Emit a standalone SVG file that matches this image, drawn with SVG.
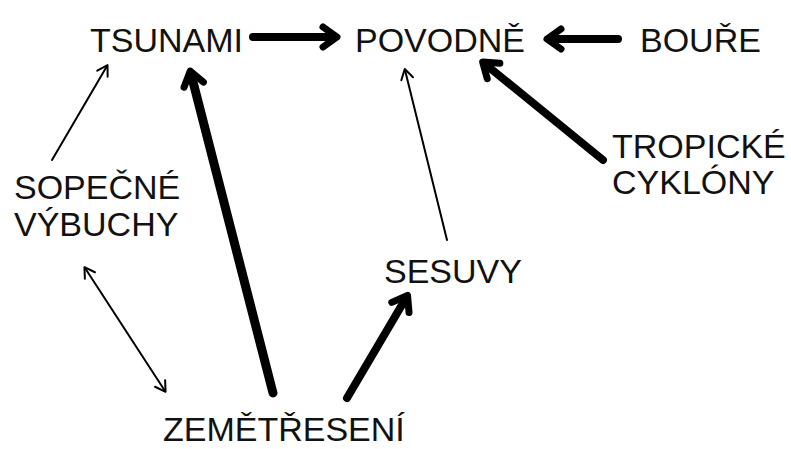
<svg xmlns="http://www.w3.org/2000/svg" width="791" height="449" viewBox="0 0 791 449">
<style>
text{font-family:"Liberation Sans",Arial,sans-serif;font-size:34px;fill:#111}
.c{fill:none;stroke:#000;stroke-linecap:round}
.thin{stroke-width:2}
.thick{stroke-width:8}
</style>
<defs>
<marker id="hk" markerUnits="userSpaceOnUse" viewBox="-20 -14 28 28" markerWidth="28" markerHeight="28" refX="0" refY="0" orient="auto-start-reverse">
<path d="M-11,-10 L3,0 L-11,10" fill="none" stroke="#000" stroke-width="7" stroke-linecap="round" stroke-linejoin="round"/>
</marker>
<marker id="hn" markerUnits="userSpaceOnUse" viewBox="-14 -10 20 20" markerWidth="20" markerHeight="20" refX="0" refY="0" orient="auto-start-reverse">
<path d="M-9,-6 L1,0 L-9,6" fill="none" stroke="#000" stroke-width="2" stroke-linecap="round" stroke-linejoin="round"/>
</marker>
</defs>
<rect width="791" height="449" fill="#fff"/>
<g id="connectors">
<line class="c thick" x1="253" y1="37" x2="334" y2="37" marker-end="url(#hk)"/>
<line class="c thick" x1="618" y1="39" x2="550" y2="39" marker-end="url(#hk)"/>
<line class="c thick" x1="603" y1="160" x2="485" y2="64" marker-end="url(#hk)"/>
<line class="c thin" x1="447" y1="240" x2="405" y2="70" marker-end="url(#hn)"/>
<line class="c thick" x1="273" y1="393" x2="191" y2="74" marker-end="url(#hk)" style="stroke-width:9"/>
<line class="c thick" x1="347" y1="398" x2="406" y2="298" marker-end="url(#hk)"/>
<line class="c thin" x1="52" y1="160" x2="107" y2="66" marker-end="url(#hn)"/>
<line class="c thin" x1="85" y1="268" x2="165" y2="391" marker-start="url(#hn)" marker-end="url(#hn)"/>
</g>
<g id="tsunami"><text x="90" y="52">TSUNAMI</text></g>
<g id="povodne"><text x="355" y="52">POVODNĚ</text></g>
<g id="boure"><text x="640" y="52">BOUŘE</text></g>
<g id="sopecne"><text x="14" y="199">SOPEČNÉ</text><text x="14" y="236">VÝBUCHY</text></g>
<g id="tropicke"><text x="612" y="158">TROPICKÉ</text><text x="612" y="194">CYKLÓNY</text></g>
<g id="sesuvy"><text x="384" y="283">SESUVY</text></g>
<g id="zemetreseni"><text x="163" y="441">ZEMĚTŘESENÍ</text></g>
</svg>
